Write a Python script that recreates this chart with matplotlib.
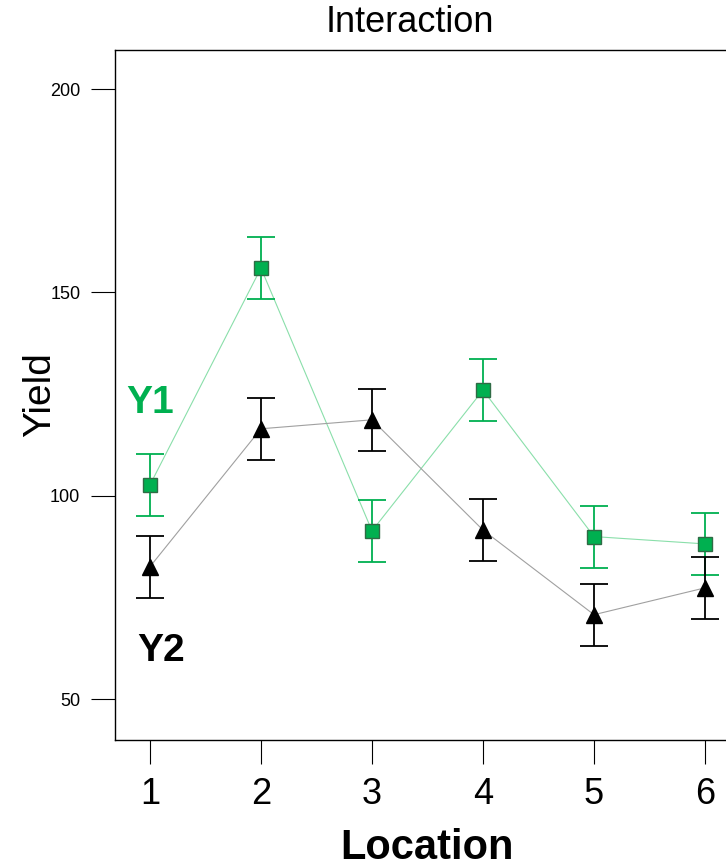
import numpy as np
import matplotlib
matplotlib.use('Agg')
import matplotlib.pyplot as plt

plt.rcParams['font.family'] = ['Liberation Sans', 'DejaVu Sans']

locations = [1, 2, 3, 4, 5, 6]
y1_mean = [102.7, 156.0, 91.4, 126.0, 90.0, 88.2]
y1_err = [7.6, 7.6, 7.6, 7.6, 7.6, 7.6]
y2_mean = [82.6, 116.5, 118.7, 91.6, 70.8, 77.4]
y2_err = [7.6, 7.6, 7.6, 7.6, 7.6, 7.6]

green = '#00b050'

fig = plt.figure(figsize=(7.26, 8.67), dpi=100)
ax = fig.add_axes([115/726, 127/867, 625/726, 690/867])

# connecting lines
ax.plot(locations, y1_mean, '-', color='#8adfaa', lw=0.8, zorder=2)
ax.plot(locations, y2_mean, '-', color='#a0a0a0', lw=0.8, zorder=2)

ax.errorbar(locations, y1_mean, yerr=y1_err, fmt='none', ecolor=green,
            elinewidth=1.3, capsize=10, capthick=1.3, zorder=3)
ax.errorbar(locations, y2_mean, yerr=y2_err, fmt='none', ecolor='black',
            elinewidth=1.3, capsize=10, capthick=1.3, zorder=3)

ax.plot(locations, y1_mean, 's', color=green, markersize=9.5,
        markeredgecolor='#2f6b45', markeredgewidth=1.0, zorder=4)
ax.plot(locations, y2_mean, '^', color='black', markersize=11, zorder=4)

ax.set_xlim(0.685, 6.315)
ax.set_ylim(40, 209.6)
ax.set_xticks(locations)
ax.set_yticks([50, 100, 150, 200])

ax.tick_params(axis='x', direction='out', length=17, width=0.8, labelsize=26, pad=10)
ax.tick_params(axis='y', direction='out', length=17, width=0.8, labelsize=13, pad=8)

for s in ax.spines.values():
    s.set_linewidth(1.0)

ax.set_xlabel('Location', fontsize=30, fontweight='bold', va='center')
ax.xaxis.set_label_coords(0.5, -0.157)
ax.set_ylabel('Yield', fontsize=28, va='center')
ax.yaxis.set_label_coords(-0.12, 0.5)

ax.text(1.0, 122.8, 'Y1', color=green, fontsize=28, fontweight='bold',
        ha='center', va='center')
ax.text(1.1, 61.8, 'Y2', color='black', fontsize=28, fontweight='bold',
        ha='center', va='center')

fig.text(410/726, 1 - 22/867, 'Interaction', fontsize=26, ha='center', va='center')

plt.savefig('out.png', dpi=100)
